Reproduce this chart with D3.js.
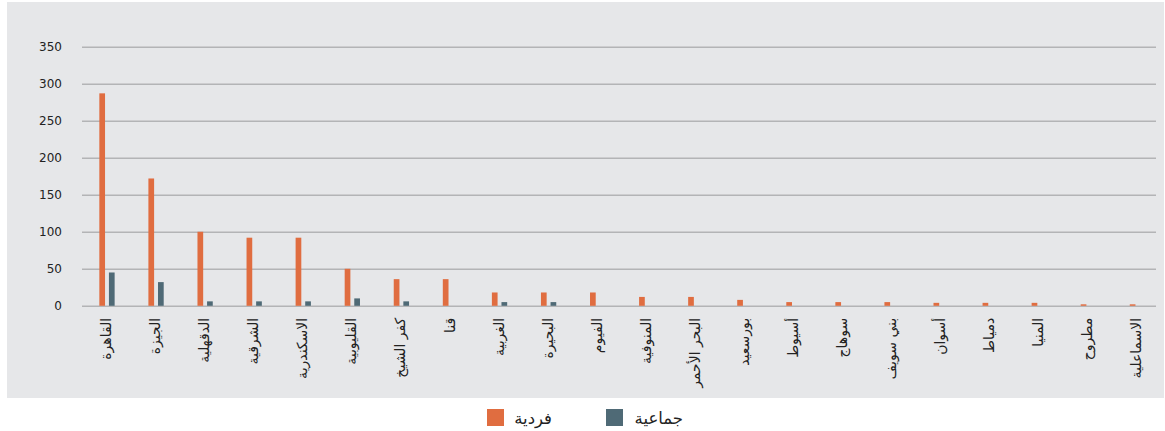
<!DOCTYPE html>
<html lang="ar">
<head>
<meta charset="utf-8">
<script src="https://cdn.jsdelivr.net/npm/d3@7"></script>
<style>
  html, body { margin: 0; padding: 0; background: #ffffff; }
  svg { display: block; }
</style>
</head>
<body>
<svg id="chart" width="1165" height="431"></svg>
<script>
// Governorates (x-axis categories)
const categories = [
  "القاهرة", "الجيزة", "الدقهلية", "الشرقية", "الاسكندرية", "القليوبية",
  "كفر الشيخ", "قنا", "الغربية", "البحيرة", "الفيوم", "المنوفية",
  "البحر الأحمر", "بورسعيد", "أسيوط", "سوهاج", "بني سويف", "أسوان",
  "دمياط", "المنيا", "مطروح", "الاسماعلية"
];

// Individual cases
const individual = [287, 172, 100, 92, 92, 50, 36, 36, 18, 18, 18, 12, 12, 8, 5, 5, 5, 4, 4, 4, 2, 2];
// Collective cases
const collective = [45, 32, 6, 6, 6, 10, 6, 0, 5, 5, 0, 0, 0, 0, 0, 0, 0, 0, 0, 0, 0, 0];

const seriesNames = ["فردية", "جماعية"];
const seriesColors = ["#e06d40", "#4f6a76"];
const yTicks = [0, 50, 100, 150, 200, 250, 300, 350];

const svg = d3.select("#chart");

// grey plotting panel
svg.append("rect")
  .attr("x", 7).attr("y", 2)
  .attr("width", 1157).attr("height", 396)
  .attr("fill", "#e6e7e9");

const y = d3.scaleLinear().domain([0, 350]).range([305.8, 46.7]);
const x = d3.scaleBand().domain(categories).range([82.5, 1162]).padding(0);

// gridlines + y tick labels
const yAxis = d3.axisLeft(y)
  .tickValues(yTicks)
  .tickSize(-(1156 - 82))
  .tickPadding(20)
  .tickFormat(d3.format("d"));

const gy = svg.append("g")
  .attr("transform", "translate(82,0)")
  .call(yAxis);
gy.select(".domain").remove();
gy.selectAll(".tick line")
  .attr("stroke", "#b3b4b6")
  .attr("stroke-width", 1.6);
gy.selectAll(".tick text")
  .attr("fill", "#222")
  .style("font-family", "'DejaVu Sans', sans-serif")
  .style("font-size", "12px");

// bars
const barW = 5.7;
const offsets = [-7.7, 1.9];
const series = [individual, collective];

series.forEach((vals, si) => {
  svg.append("g")
    .selectAll("rect")
    .data(vals.map((v, i) => ({ cat: categories[i], v })))
    .join("rect")
    .filter(d => d.v > 0)
    .attr("x", d => x(d.cat) + x.bandwidth() / 2 + offsets[si])
    .attr("y", d => y(d.v))
    .attr("width", barW)
    .attr("height", d => y(0) - y(d.v))
    .attr("fill", seriesColors[si]);
});

// x-axis category labels, rotated
const gx = svg.append("g")
  .attr("transform", `translate(0,${y(0)})`)
  .call(d3.axisBottom(x).tickSize(0).tickPadding(0));
gx.select(".domain").remove();
gx.selectAll(".tick text")
  .attr("transform", "translate(4,12) rotate(-90)")
  .attr("x", 0).attr("y", 0).attr("dy", "0")
  .attr("text-anchor", "end")
  .attr("fill", "#222")
  .style("font-family", "'DejaVu Sans', sans-serif")
  .style("font-size", "14px");

// legend
const legend = svg.append("g");
const legendItems = [
  { name: seriesNames[0], color: seriesColors[0], sx: 487, tx: 552 },
  { name: seriesNames[1], color: seriesColors[1], sx: 606, tx: 683 }
];
legendItems.forEach(it => {
  legend.append("rect")
    .attr("x", it.sx).attr("y", 409)
    .attr("width", 17).attr("height", 17)
    .attr("fill", it.color);
  legend.append("text")
    .attr("x", it.tx).attr("y", 424)
    .attr("text-anchor", "end")
    .attr("fill", "#222")
    .style("font-family", "'DejaVu Sans', sans-serif")
    .style("font-size", "16.5px")
    .text(it.name);
});
</script>
</body>
</html>
